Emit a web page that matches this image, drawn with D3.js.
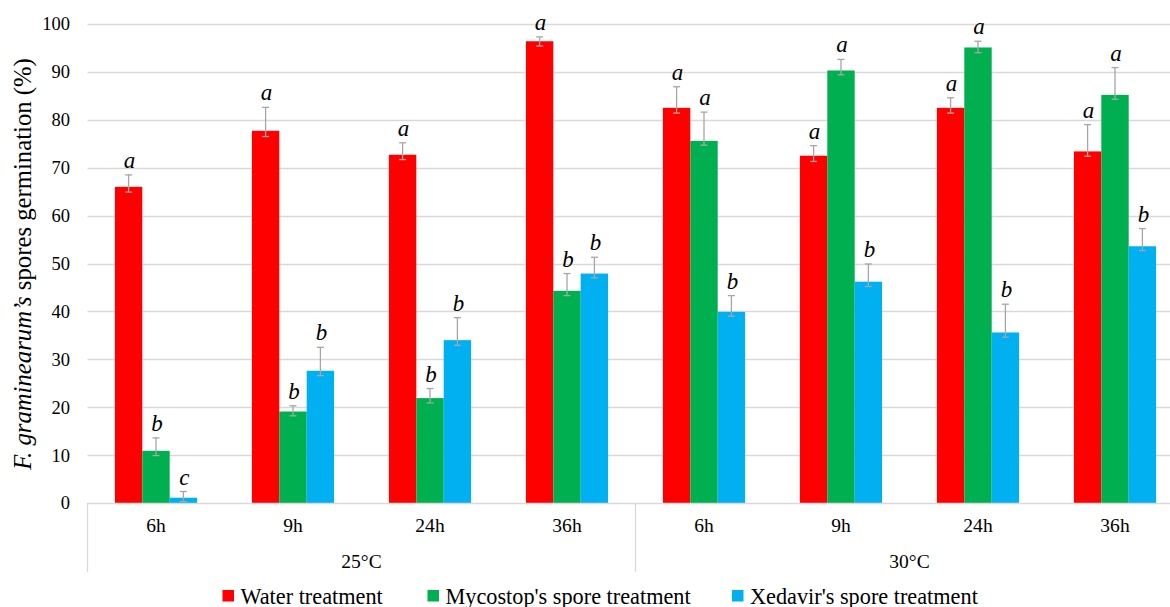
<!DOCTYPE html>
<html>
<head>
<meta charset="utf-8">
<script src="https://cdn.jsdelivr.net/npm/d3@7"></script>
<style>
  html, body { margin: 0; padding: 0; background: #fff; }
  svg { display: block; }
</style>
</head>
<body>
<svg id="chart" width="1170" height="607"></svg>
<script>
// ---- Data ----
const temperatures = ["25°C", "30°C"];
const categories = ["6h", "9h", "24h", "36h", "6h", "9h", "24h", "36h"];
const seriesNames = ["Water treatment", "Mycostop's spore treatment", "Xedavir's spore treatment"];
const seriesColors = ["#ff0000", "#00b050", "#00b0f0"];

const waterValues    = [66.0, 77.7, 72.7, 96.4, 82.5, 72.5, 82.5, 73.4];
const mycostopValues = [10.9, 19.1, 21.9, 44.3, 75.6, 90.3, 95.1, 85.2];
const xedavirValues  = [1.1, 27.6, 34.0, 47.9, 39.9, 46.2, 35.6, 53.6];

// upper error (plus) and lower error (minus) as drawn
const waterErrPlus     = [2.5, 4.9, 2.5, 0.9, 4.4, 2.1, 2.1, 5.6];
const mycostopErrPlus  = [2.7, 1.2, 2.0, 3.6, 6.0, 2.3, 1.3, 5.7];
const xedavirErrPlus   = [1.3, 4.9, 4.7, 3.4, 3.4, 3.7, 5.9, 3.7];
const waterErrMinus    = [1.1, 1.2, 1.0, 1.0, 1.1, 1.2, 1.1, 1.0];
const mycostopErrMinus = [1.0, 0.9, 1.0, 1.0, 0.9, 0.9, 1.1, 0.9];
const xedavirErrMinus  = [0.8, 1.0, 1.1, 0.9, 0.9, 1.0, 1.0, 0.9];

const waterLetters    = ["a", "a", "a", "a", "a", "a", "a", "a"];
const mycostopLetters = ["b", "b", "b", "b", "a", "a", "a", "a"];
const xedavirLetters  = ["c", "b", "b", "b", "b", "b", "b", "b"];

const yTicks = [0, 10, 20, 30, 40, 50, 60, 70, 80, 90, 100];

const seriesValues = [waterValues, mycostopValues, xedavirValues];
const seriesPlus = [waterErrPlus, mycostopErrPlus, xedavirErrPlus];
const seriesMinus = [waterErrMinus, mycostopErrMinus, xedavirErrMinus];
const seriesLetters = [waterLetters, mycostopLetters, xedavirLetters];

const FONT = "'Liberation Serif', serif";

// scale a text's font so that its rendered length matches a target width
function fitFont(node, baseSize, target) {
  node.style.fontSize = baseSize + "px";
  const len = node.getComputedTextLength();
  const size = len > 0 ? baseSize * target / len : baseSize;
  return Math.max(baseSize * 0.8, Math.min(baseSize * 1.25, size));
}

// ---- Layout ----
const svg = d3.select("#chart");
const plotLeft = 87.5, plotRight = 1183.5, plotTop = 24, plotBottom = 503;

const x = d3.scaleBand()
  .domain(d3.range(categories.length))
  .range([plotLeft, plotRight])
  .paddingInner(0.4)
  .paddingOuter(0.2);

const xSub = d3.scaleBand()
  .domain(d3.range(seriesNames.length))
  .range([0, x.bandwidth()]);

const y = d3.scaleLinear().domain([0, 100]).range([plotBottom, plotTop]);

// Gridlines
svg.append("g")
  .selectAll("line")
  .data(yTicks.filter(d => d > 0))
  .join("line")
  .attr("x1", plotLeft).attr("x2", 1170)
  .attr("y1", d => Math.round(y(d)) + 0.5).attr("y2", d => Math.round(y(d)) + 0.5)
  .attr("stroke", "#d9d9d9").attr("stroke-width", 1.3);

// Y axis labels
const yAxis = d3.axisLeft(y).tickValues(yTicks).tickSize(0).tickPadding(0);
const yg = svg.append("g").attr("transform", `translate(70,0)`).call(yAxis);
yg.attr("font-family", null).attr("font-size", null);
yg.select(".domain").remove();
yg.selectAll("text")
  .attr("fill", "#000")
  .style("font-family", FONT)
  .style("font-size", "18.5px");

// Y title
const yTitle = svg.append("text")
  .attr("transform", `translate(31,${(58 + 470) / 2}) rotate(-90)`)
  .attr("text-anchor", "middle")
  .style("font-family", FONT)
  .style("font-size", "24px");
yTitle.append("tspan").style("font-style", "italic").text("F. graminearum’s");
yTitle.append("tspan").text(" spores germination (%)");
yTitle.style("font-size", fitFont(yTitle.node(), 24, 412) + "px");

// Bars
const groups = svg.append("g").selectAll("g")
  .data(categories.map((c, i) => i))
  .join("g")
  .attr("transform", i => `translate(${x(i)},0)`);

seriesNames.forEach((name, s) => {
  groups.append("rect")
    .attr("x", xSub(s))
    .attr("width", xSub.bandwidth())
    .attr("y", i => y(seriesValues[s][i]))
    .attr("height", i => y(0) - y(seriesValues[s][i]))
    .attr("fill", seriesColors[s]);
});

// Error bars and letters
seriesNames.forEach((name, s) => {
  const cx = xSub(s) + xSub.bandwidth() / 2;
  const hi = i => y(seriesValues[s][i] + seriesPlus[s][i]);
  const lo = i => y(Math.max(0, seriesValues[s][i] - seriesMinus[s][i]));
  const eg = groups.append("g").attr("stroke", "#a6a6a6").attr("stroke-width", 1.3);
  eg.append("line").attr("x1", cx).attr("x2", cx).attr("y1", hi).attr("y2", lo);
  eg.append("line").attr("x1", cx - 3.5).attr("x2", cx + 3.5).attr("y1", hi).attr("y2", hi);
  eg.append("line").attr("x1", cx - 3.5).attr("x2", cx + 3.5).attr("y1", lo).attr("y2", lo);
  groups.append("text")
    .attr("x", cx + 1)
    .attr("y", i => hi(i) - 7)
    .attr("text-anchor", "middle")
    .style("font-style", "italic")
    .style("font-family", FONT)
    .style("font-size", "23px")
    .text(i => seriesLetters[s][i]);
});

// X axis
const axisColor = "#d9d9d9";
svg.append("line")
  .attr("x1", plotLeft).attr("x2", 1170)
  .attr("y1", plotBottom + 0.5).attr("y2", plotBottom + 0.5)
  .attr("stroke", axisColor).attr("stroke-width", 1.3);

const step = x.step();
const dividers = [0, 4, 8].map(k => plotLeft + k * step);
svg.append("g").selectAll("line")
  .data(dividers)
  .join("line")
  .attr("x1", d => d).attr("x2", d => d)
  .attr("y1", plotBottom).attr("y2", 572)
  .attr("stroke", axisColor).attr("stroke-width", 1.3);

const catLabels = svg.append("g").selectAll("text")
  .data(categories.map((c, i) => i))
  .join("text")
  .attr("x", i => x(i) + x.bandwidth() / 2)
  .attr("y", 532)
  .attr("text-anchor", "middle")
  .style("font-family", FONT)
  .style("font-size", "19px")
  .text(i => categories[i]);
const catSize = fitFont(catLabels.nodes()[2], 19, 29.3);
catLabels.style("font-size", catSize + "px");

svg.append("g").selectAll("text")
  .data(temperatures.map((t, k) => k))
  .join("text")
  .attr("x", k => plotLeft + (k * 4 + 2) * step)
  .attr("y", 568)
  .attr("text-anchor", "middle")
  .style("font-family", FONT)
  .style("font-size", catSize + "px")
  .text(k => temperatures[k]);

// Legend
const legendX = [222.5, 427.5, 732];
const legend = svg.append("g").selectAll("g")
  .data(seriesNames.map((n, s) => s))
  .join("g")
  .attr("transform", s => `translate(${legendX[s]},590)`);
legend.append("rect").attr("width", 11.5).attr("height", 11.5).attr("fill", s => seriesColors[s]);
const legendText = legend.append("text").attr("x", 18).attr("y", 13.5)
  .style("font-family", FONT).style("font-size", "22px")
  .text(s => seriesNames[s]);
const legSize = fitFont(legendText.nodes()[2], 22, 228);
legendText.style("font-size", legSize + "px");
</script>
</body>
</html>
